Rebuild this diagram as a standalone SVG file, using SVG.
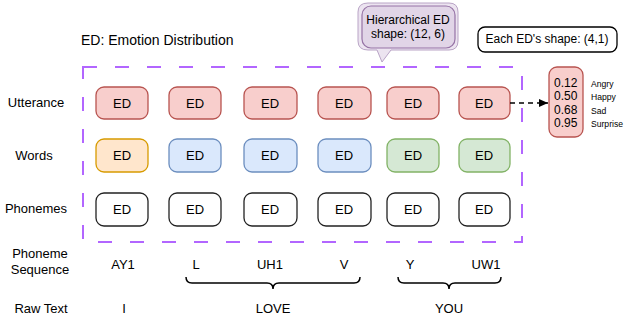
<svg xmlns="http://www.w3.org/2000/svg" width="624" height="320" viewBox="0 0 624 320">
<defs>
<style>
text{font-family:"Liberation Sans",Arial,sans-serif;fill:#000}
.lbl{font-size:13px;text-anchor:middle}
.ed{font-size:13px;text-anchor:middle}
.box{stroke-width:1.3}
.utt{fill:#f8cecc;stroke:#b85450}
.org{fill:#ffe6cc;stroke:#d79b00}
.blu{fill:#dae8fc;stroke:#6c8ebf}
.grn{fill:#d5e8d4;stroke:#82b366}
.pho{fill:#fff;stroke:#222}
.seq{font-size:13px;text-anchor:middle}
.brace{fill:none;stroke:#000;stroke-width:1.5}
</style>
<marker id="arr" markerWidth="10" markerHeight="10" refX="9" refY="5" orient="auto" markerUnits="userSpaceOnUse">
<path d="M0,1 L9,5 L0,9 Z" fill="#000"/>
</marker>
</defs>
<rect width="624" height="320" fill="#fff"/>

<text x="81" y="45" style="font-size:14px">ED: Emotion Distribution</text>

<g id="labels">
<text class="lbl" x="36" y="107">Utterance</text>
<text class="lbl" x="34" y="160">Words</text>
<text class="lbl" x="36" y="213">Phonemes</text>
<text class="lbl" x="40" y="258">Phoneme</text>
<text class="lbl" x="40" y="274">Sequence</text>
<text class="lbl" x="41" y="313">Raw Text</text>
</g>

<g id="hier-box">
<rect x="83" y="67" width="439" height="175" fill="none" stroke="#b266ff" stroke-width="2" stroke-dasharray="14 18"/>
</g>

<g id="callout">
<path d="M368,3 H449 Q458,3 458,12 V41 Q458,50 449,50 H391 L382,62 L377,50 H368 Q358,50 358,41 V12 Q358,3 368,3 Z" fill="#ece4f0" stroke="#b9a4c6" stroke-width="1"/>
<rect x="362" y="6" width="93" height="42" rx="9" fill="#e1d5e7" stroke="#9673a6" stroke-width="1.2"/>
<text x="408" y="24" style="font-size:12px;text-anchor:middle">Hierarchical ED</text>
<text x="408" y="38" style="font-size:12px;text-anchor:middle">shape: (12, 6)</text>
</g>

<g id="shape-note">
<rect x="478" y="27" width="139" height="25" rx="7" fill="#fff" stroke="#000" stroke-width="1.3"/>
<text x="547" y="43" style="font-size:12px;text-anchor:middle">Each ED's shape: (4,1)</text>
</g>

<g id="utterance">
<g id="u1"><rect class="box utt" x="96" y="87" width="52" height="32" rx="8"/><text class="ed" x="122" y="108">ED</text></g>
<g id="u2"><rect class="box utt" x="169" y="87" width="52" height="32" rx="8"/><text class="ed" x="195" y="108">ED</text></g>
<g id="u3"><rect class="box utt" x="244" y="87" width="53" height="32" rx="8"/><text class="ed" x="270" y="108">ED</text></g>
<g id="u4"><rect class="box utt" x="318" y="87" width="53" height="32" rx="8"/><text class="ed" x="344" y="108">ED</text></g>
<g id="u5"><rect class="box utt" x="387" y="87" width="52" height="32" rx="8"/><text class="ed" x="413" y="108">ED</text></g>
<g id="u6"><rect class="box utt" x="459" y="87" width="51" height="32" rx="8"/><text class="ed" x="484" y="108">ED</text></g>
</g>

<g id="words">
<g id="w1"><rect class="box org" x="96" y="139" width="52" height="33" rx="8"/><text class="ed" x="122" y="160">ED</text></g>
<g id="w2"><rect class="box blu" x="169" y="139" width="52" height="33" rx="8"/><text class="ed" x="195" y="160">ED</text></g>
<g id="w3"><rect class="box blu" x="244" y="139" width="53" height="33" rx="8"/><text class="ed" x="270" y="160">ED</text></g>
<g id="w4"><rect class="box blu" x="318" y="139" width="53" height="33" rx="8"/><text class="ed" x="344" y="160">ED</text></g>
<g id="w5"><rect class="box grn" x="387" y="139" width="52" height="33" rx="8"/><text class="ed" x="413" y="160">ED</text></g>
<g id="w6"><rect class="box grn" x="459" y="139" width="51" height="33" rx="8"/><text class="ed" x="484" y="160">ED</text></g>
</g>

<g id="phonemes">
<g id="p1"><rect class="box pho" x="96" y="193" width="52" height="33" rx="8"/><text class="ed" x="122" y="214">ED</text></g>
<g id="p2"><rect class="box pho" x="169" y="193" width="52" height="33" rx="8"/><text class="ed" x="195" y="214">ED</text></g>
<g id="p3"><rect class="box pho" x="244" y="193" width="53" height="33" rx="8"/><text class="ed" x="270" y="214">ED</text></g>
<g id="p4"><rect class="box pho" x="318" y="193" width="53" height="33" rx="8"/><text class="ed" x="344" y="214">ED</text></g>
<g id="p5"><rect class="box pho" x="387" y="193" width="52" height="33" rx="8"/><text class="ed" x="413" y="214">ED</text></g>
<g id="p6"><rect class="box pho" x="459" y="193" width="51" height="33" rx="8"/><text class="ed" x="484" y="214">ED</text></g>
</g>

<g id="ed-vector">
<rect x="549" y="67" width="34" height="70" rx="8" fill="#f8cecc" stroke="#b85450" stroke-width="1.3"/>
<g style="font-size:12px">
<text x="554" y="87">0.12</text>
<text x="554" y="100">0.50</text>
<text x="554" y="114">0.68</text>
<text x="554" y="127">0.95</text>
</g>
<g style="font-size:8.6px">
<text x="591" y="87">Angry</text>
<text x="591" y="100">Happy</text>
<text x="591" y="114">Sad</text>
<text x="591" y="127">Surprise</text>
</g>
</g>

<g id="connectors">
<line x1="510" y1="103" x2="548" y2="103" stroke="#000" stroke-width="1.5" stroke-dasharray="5 4" marker-end="url(#arr)"/>
<path class="brace" d="M186,277 Q186,283 192,283 L267,283 Q273,283 273,289 Q273,283 279,283 L354,283 Q360,283 360,277"/>
<path class="brace" d="M398,277 Q398,283 404,283 L443,283 Q449,283 449,289 Q449,283 455,283 L495,283 Q501,283 501,277"/>
</g>

<g id="sequence">
<text class="seq" x="123" y="269">AY1</text>
<text class="seq" x="196" y="269">L</text>
<text class="seq" x="270" y="269">UH1</text>
<text class="seq" x="344" y="269">V</text>
<text class="seq" x="410" y="269">Y</text>
<text class="seq" x="486" y="269">UW1</text>
</g>

<g id="rawtext">
<text class="seq" x="124" y="313">I</text>
<text class="seq" x="273" y="313">LOVE</text>
<text class="seq" x="449" y="313">YOU</text>
</g>
</svg>
